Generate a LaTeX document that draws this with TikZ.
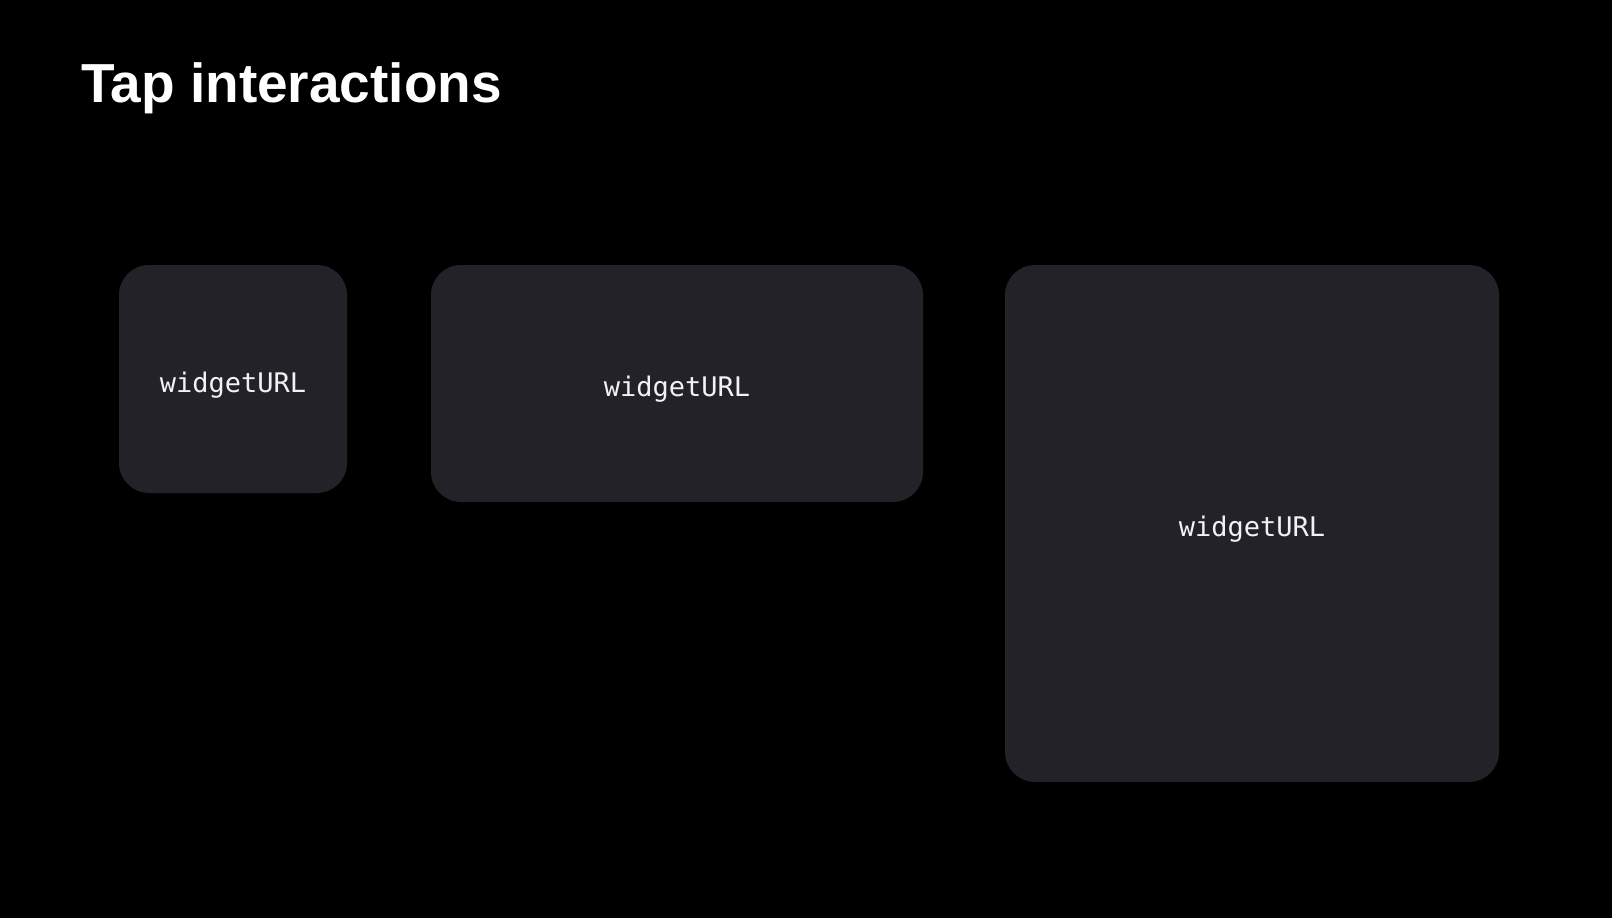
\documentclass[tikz,border=0pt]{standalone}
\usepackage{fontspec}
\setmainfont{Liberation Sans}
\newfontfamily\urlfont{DejaVu Sans Mono}
\definecolor{widgetgray}{RGB}{35,34,40}
\definecolor{urlwhite}{RGB}{242,242,242}
\begin{document}
\begin{tikzpicture}[x=1pt, y=-1pt,
                    widget/.style={fill=widgetgray, rounded corners=30pt, inner sep=0pt, outer sep=0pt},
                    url/.style={anchor=base, inner sep=0pt, text=urlwhite,
                                font=\urlfont\fontsize{27}{32}\selectfont}]
  \fill[black] (0,0) rectangle (1612,918);
  \node[anchor=base west, inner sep=0pt, text=white,
        font=\bfseries\fontsize{55}{66}\selectfont] (title) at (81,102) {Tap interactions};
  % the three widget sizes
  \node[widget, minimum width=228pt, minimum height=228pt] (small) at (233,379) {};
  \node[widget, minimum width=492pt, minimum height=237pt] (medium) at (677,383.5) {};
  \node[widget, minimum width=494pt, minimum height=517pt] (large) at (1252,523.5) {};
  \node[url] (small url) at ([yshift=-13.5pt]small.center) {widgetURL};
  \node[url] (medium url) at ([yshift=-13pt]medium.center) {widgetURL};
  \node[url] (large url) at ([yshift=-12.5pt]large.center) {widgetURL};
\end{tikzpicture}
\end{document}
